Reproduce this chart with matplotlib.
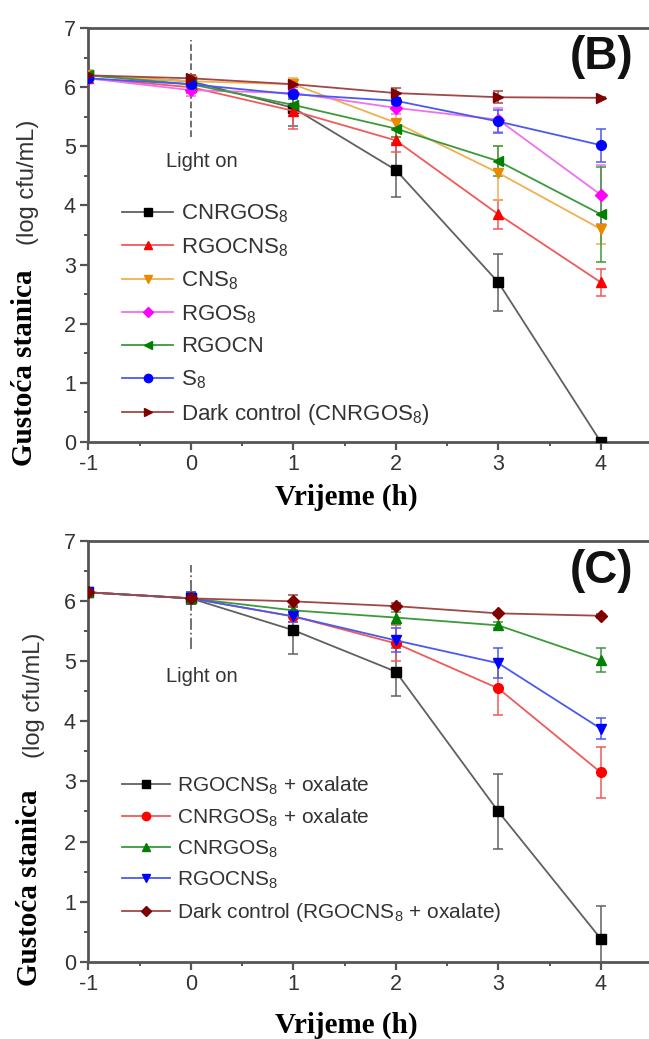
import numpy as np
import matplotlib
matplotlib.use('Agg')
import matplotlib.pyplot as plt
from matplotlib.ticker import MultipleLocator
from matplotlib.lines import Line2D

plt.rcParams['font.family'] = ['Liberation Sans', 'DejaVu Sans']
plt.rcParams['mathtext.fontset'] = 'custom'
plt.rcParams['mathtext.rm'] = 'Liberation Sans'
plt.rcParams['mathtext.it'] = 'Liberation Sans'
plt.rcParams['axes.unicode_minus'] = False

# time points (h)
hours = [-1, 0, 1, 2, 3, 4]

# panel B
b_labels = ['CNRGOS$_8$', 'RGOCNS$_8$', 'CNS$_8$', 'RGOS$_8$', 'RGOCN', 'S$_8$',
            'Dark control (CNRGOS$_8$)']
b_cnrgos = [6.20, 6.10, 5.65, 4.60, 2.70, 0.00]
b_rgocns = [6.15, 6.00, 5.60, 5.10, 3.85, 2.70]
b_cns = [6.20, 6.10, 6.05, 5.40, 4.55, 3.60]
b_rgos = [6.15, 5.95, 5.90, 5.65, 5.45, 4.18]
b_rgocn = [6.20, 6.05, 5.70, 5.30, 4.75, 3.85]
b_s8 = [6.15, 6.05, 5.88, 5.77, 5.42, 5.02]
b_dark = [6.20, 6.15, 6.05, 5.90, 5.83, 5.82]
b_err_cnrgos = [0.05, 0.10, 0.30, 0.45, 0.48, 0.00]
b_err_rgocns = [0.05, 0.10, 0.30, 0.20, 0.25, 0.23]
b_err_cns = [0.05, 0.10, 0.10, 0.25, 0.45, 0.25]
b_err_rgos = [0.05, 0.10, 0.10, 0.10, 0.20, 0.50]
b_err_rgocn = [0.05, 0.10, 0.10, 0.15, 0.25, 0.80]
b_err_s8 = [0.05, 0.05, 0.05, 0.05, 0.20, 0.28]
b_err_dark = [0.05, 0.05, 0.05, 0.08, 0.10, 0.02]

# panel C
c_labels = ['RGOCNS$_8$ + oxalate', 'CNRGOS$_8$ + oxalate', 'CNRGOS$_8$', 'RGOCNS$_8$',
            'Dark control (RGOCNS$_8$ + oxalate)']
c_rgocns_ox = [6.15, 6.05, 5.52, 4.83, 2.50, 0.38]
c_cnrgos_ox = [6.15, 6.05, 5.75, 5.30, 4.55, 3.15]
c_cnrgos = [6.15, 6.05, 5.85, 5.73, 5.60, 5.02]
c_rgocns = [6.15, 6.05, 5.75, 5.35, 4.97, 3.88]
c_dark = [6.15, 6.05, 6.00, 5.92, 5.80, 5.76]
c_err_rgocns_ox = [0.05, 0.10, 0.40, 0.40, 0.62, 0.55]
c_err_cnrgos_ox = [0.05, 0.10, 0.10, 0.30, 0.45, 0.43]
c_err_cnrgos = [0.05, 0.10, 0.05, 0.10, 0.05, 0.20]
c_err_rgocns = [0.05, 0.10, 0.10, 0.20, 0.25, 0.18]
c_err_dark = [0.05, 0.05, 0.10, 0.05, 0.03, 0.03]

b_values = [b_cnrgos, b_rgocns, b_cns, b_rgos, b_rgocn, b_s8, b_dark]
b_errors = [b_err_cnrgos, b_err_rgocns, b_err_cns, b_err_rgos, b_err_rgocn, b_err_s8, b_err_dark]
b_markers = ['s', '^', 'v', 'D', '<', 'o', '>']
b_colors = ['#000000', '#ff0000', '#e88a00', '#ff00ff', '#008000', '#0000ff', '#800000']
b_lines = ['#606060', '#f05a5a', '#f0b050', '#f070f0', '#3c9a3c', '#4a5af0', '#a04848']

c_values = [c_rgocns_ox, c_cnrgos_ox, c_cnrgos, c_rgocns, c_dark]
c_errors = [c_err_rgocns_ox, c_err_cnrgos_ox, c_err_cnrgos, c_err_rgocns, c_err_dark]
c_markers = ['s', 'o', '^', 'v', 'D']
c_colors = ['#000000', '#ff0000', '#008000', '#0000ff', '#800000']
c_lines = ['#606060', '#f05a5a', '#3c9a3c', '#4a5af0', '#a04848']

light_on_b = (5.15, 6.8)
light_on_c = (5.2, 6.6)

fig = plt.figure(figsize=(6.49, 10.39), dpi=100)
ax_b = fig.add_axes([0.136, 0.5746, 0.864, 0.3984])
ax_c = fig.add_axes([0.136, 0.0745, 0.864, 0.4045])


def draw_panel(ax, values, errors, markers, colors, lines, labels, tag, vspan, vls,
               leg_y, leg_space, leg_fs):
    ax.vlines(0, vspan[0], vspan[1], colors='#666666', linestyles=vls, lw=1.3, zorder=1)
    handles = []
    for y, e, m, c, lc, lab in zip(values, errors, markers, colors, lines, labels):
        ms = 6 if m == 'D' else 7
        ax.errorbar(hours, y, yerr=e, fmt='-', marker=m, ms=ms, color=lc, mfc=c, mec=c,
                    lw=1.3, ecolor=lc, elinewidth=1.1, capsize=3.5, capthick=1.1, zorder=3)
        handles.append(Line2D([], [], color=lc, lw=1.3, marker=m, ms=ms - 1, mfc=c, mec=c,
                              label=lab))
    ax.set_xlim(-1, 4.47)
    ax.set_ylim(0, 7)
    ax.xaxis.set_major_locator(MultipleLocator(1))
    ax.xaxis.set_minor_locator(MultipleLocator(0.5))
    ax.yaxis.set_major_locator(MultipleLocator(1))
    ax.yaxis.set_minor_locator(MultipleLocator(0.5))
    ax.tick_params(which='major', direction='out', length=6, width=1.6, color='#555555',
                   labelsize=15.5, labelcolor='#333333', pad=3)
    ax.tick_params(which='minor', direction='out', length=3, width=1.4, color='#555555')
    for s in ['left', 'bottom', 'top']:
        ax.spines[s].set_linewidth(2.0)
        ax.spines[s].set_color('#555555')
    ax.spines['right'].set_visible(False)
    ax.text(0.11, 4.75, 'Light on', fontsize=14.5, color='#333333', ha='center', va='center')
    ax.text(0.915, 0.93, tag, transform=ax.transAxes, fontsize=33, fontweight='bold',
            ha='center', va='center', color='#111111')
    ax.legend(handles=handles, loc='upper left', bbox_to_anchor=(0.045, leg_y), frameon=False,
              fontsize=leg_fs, handlelength=2.3, handletextpad=0.35, labelspacing=leg_space,
              labelcolor='#333333', borderaxespad=0)


draw_panel(ax_b, b_values, b_errors, b_markers, b_colors, b_lines, b_labels, '(B)',
           light_on_b, '--', 0.60, 0.49, 16)
draw_panel(ax_c, c_values, c_errors, c_markers, c_colors, c_lines, c_labels, '(C)',
           light_on_c, '-.', 0.465, 0.47, 15)

# axis titles
for ax, xc, yg, yl in [(ax_b, 24, 368, 182), (ax_c, 30, 888, 695)]:
    fig.text(xc / 649, 1 - yg / 1039, 'Gustoća stanica', rotation=90, ha='center', va='center',
             family='Liberation Serif', fontweight='bold', fontsize=21)
    fig.text((xc + 4) / 649, 1 - yl / 1039, '(log cfu/mL)', rotation=90, ha='center',
             va='center', fontsize=17, color='#333333')

fig.text(346 / 649, 1 - 497 / 1039, 'Vrijeme (h)', ha='center', va='center',
         family='Liberation Serif', fontweight='bold', fontsize=21)
fig.text(346 / 649, 1 - 1025 / 1039, 'Vrijeme (h)', ha='center', va='center',
         family='Liberation Serif', fontweight='bold', fontsize=21)

fig.savefig('out.png', dpi=100)
